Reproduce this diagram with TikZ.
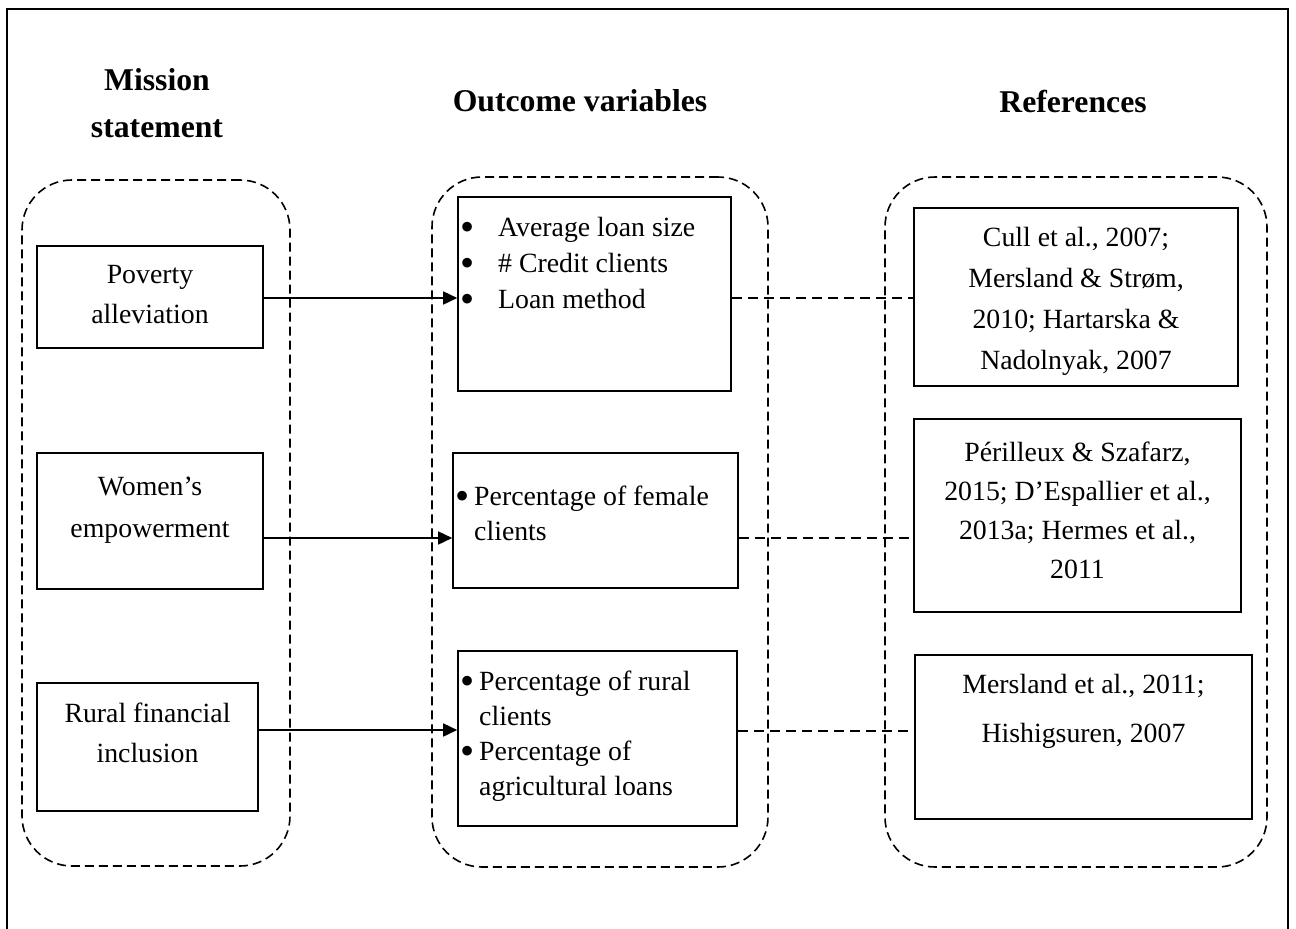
\documentclass[tikz,border=0pt]{standalone}
\usepackage{fontspec}
\setmainfont{Liberation Serif}
\usetikzlibrary{arrows.meta,positioning}
\newcommand{\bul}[1]{\makebox[#1][l]{\raisebox{-4pt}[0pt][0pt]{\scalebox{1.45}{\textbullet}}}}

\begin{document}
\begin{tikzpicture}[
    x=1pt, y=-1pt,
    box/.style={rectangle, draw, line width=1.6pt, inner sep=0pt},
    group/.style={rectangle, draw, dash pattern=on 9pt off 5pt, line width=1.6pt, rounded corners=50pt, inner sep=0pt},
    txt/.style={font=\fontsize{27.8}{#1}\selectfont, align=center, inner sep=0pt},
    txt/.default=40,
    head/.style={font=\fontsize{31.7}{47}\selectfont\bfseries, align=center, inner sep=0pt},
    arrow/.style={-{Triangle[length=14pt,width=13pt]}, line width=1.6pt},
    link/.style={dash pattern=on 10pt off 6pt, line width=1.2pt}
]
\useasboundingbox (0,0) rectangle (1296,929);

% frame
\draw[line width=2.6pt] (7,935) -- (7,9) -- (1288,9) -- (1288,935);

% headings
\node[head] (mishead) at (157,103) {Mission\\statement};
\node[head] (outhead) at (580,101) {Outcome variables};
\node[head] (refhead) at (1073,101) {References};

% groups
\node[group, minimum width=268pt, minimum height=686pt] (misgrp) at (156,523) {};
\node[group, minimum width=336pt, minimum height=690pt] (outgrp) at (600,522) {};
\node[group, minimum width=382pt, minimum height=690pt] (refgrp) at (1076,522) {};

% mission statements
\node[box, minimum width=226pt, minimum height=102pt] (pov) at (150,297) {};
\node[txt] (povtxt) at (150,295) {Poverty\\alleviation};
\node[box, minimum width=226pt, minimum height=136pt] (wom) at (150,521) {};
\node[txt=42] (womtxt) at (150,510) {Women’s\\empowerment};
\node[box, minimum width=221pt, minimum height=128pt] (rur) at (147.5,747) {};
\node[txt] (rurtxt) at (147.5,733) {Rural financial\\inclusion};

% outcome variables
\node[box, minimum width=273pt, minimum height=194pt] (out1) at (594.5,294) {};
\node[txt=36, anchor=west, align=left] (out1txt) at (460,263)
    {\bul{38pt}Average loan size\\\bul{38pt}\# Credit clients\\\bul{38pt}Loan method};
\node[box, minimum width=285pt, minimum height=135pt] (out2) at (595.5,520.5) {};
\node[txt=35, anchor=west, align=left] (out2txt) at (455,513)
    {\bul{19pt}Percentage of female\\\hspace*{19pt}clients};
\node[box, minimum width=279pt, minimum height=175pt] (out3) at (597.5,738.5) {};
\node[txt=35, anchor=west, align=left] (out3txt) at (460,736)
    {\bul{19pt}Percentage of rural\\\hspace*{19pt}clients\\\bul{19pt}Percentage of\\\hspace*{19pt}agricultural loans};

% references
\node[box, minimum width=324pt, minimum height=178pt] (ref1) at (1076,297) {};
\node[txt=41] (ref1txt) at (1076,301) {Cull et al., 2007;\\Mersland \& Strøm,\\2010; Hartarska \&\\Nadolnyak, 2007};
\node[box, minimum width=327pt, minimum height=193pt] (ref2) at (1077.5,515.5) {};
\node[txt=39] (ref2txt) at (1077.5,510) {Périlleux \& Szafarz,\\2015; D’Espallier et al.,\\2013a; Hermes et al.,\\2011};
\node[box, minimum width=337pt, minimum height=164pt] (ref3) at (1083.5,737) {};
\node[txt=49] (ref3txt) at (1083.5,711) {Mersland et al., 2011;\\Hishigsuren, 2007};

% arrows
\draw[arrow] ([yshift=-1pt]pov.east) -- ([yshift=-1pt]pov.east -| out1.west);
\draw[arrow] ([yshift=-17pt]wom.east) -- ([yshift=-17pt]wom.east -| out2.west);
\draw[arrow] ([yshift=17pt]rur.east) -- ([yshift=17pt]rur.east -| out3.west);

% dashed links
\draw[link] ([yshift=-4pt]out1.east) -- ([yshift=-4pt]out1.east -| ref1.west);
\draw[link] ([yshift=-17.5pt]out2.east) -- ([yshift=-17.5pt]out2.east -| ref2.west);
\draw[link] ([yshift=7.5pt]out3.east) -- ([yshift=7.5pt]out3.east -| ref3.west);

\end{tikzpicture}
\end{document}
